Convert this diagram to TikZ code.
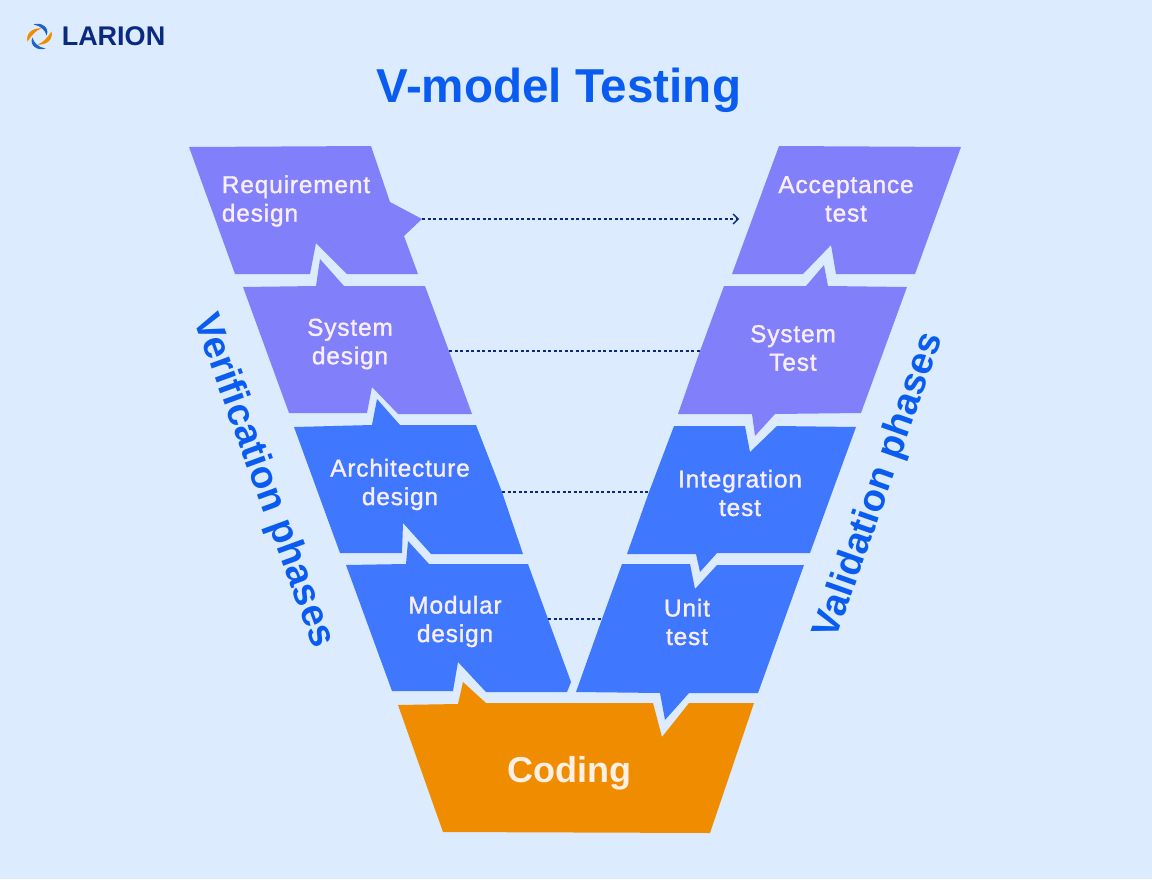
\documentclass[tikz,border=0pt]{standalone}
\usepackage{fontspec}
\setmainfont{Liberation Sans}
\newfontfamily\phasefont[FakeBold=1.4,LetterSpace=3.5]{Liberation Sans}
\usetikzlibrary{arrows.meta}
\definecolor{pagebg}{HTML}{DCECFE}
\definecolor{purplebox}{HTML}{827FFA}
\definecolor{bluebox}{HTML}{3F78FE}
\definecolor{orangebox}{HTML}{F08C00}
\definecolor{titleblue}{HTML}{0A5CF0}
\definecolor{navy}{HTML}{0A2A80}
\definecolor{logoblue}{HTML}{1F62C8}
\definecolor{labeltext}{HTML}{F8EEFF}
\definecolor{codingtext}{HTML}{FFEFE4}
\tikzset{
  phase/.style={text=labeltext,align=center,inner sep=0pt,
    font=\phasefont\fontsize{24.4}{28.5}\selectfont},
  sidelabel/.style={text=titleblue,inner sep=0pt,font=\bfseries\fontsize{38.5}{40}\selectfont},
  trace/.style={navy,line width=1.3pt,dash pattern=on 3pt off 2.5pt}
}
\begin{document}
\begin{tikzpicture}[x=1pt,y=-1pt,>={Straight Barb[length=5pt,width=10pt]}]
  \fill[pagebg] (0,0) rectangle (1152,879);

  % logo
  \foreach \ang in {0,180} {
    \begin{scope}[shift={(39.5,36.5)},rotate=\ang]
      \fill[orangebox] (-12,5) .. controls (-14,-3) and (-7,-9) .. (2,-8) .. controls (-4,-6) and (-7,-2) .. (-12,5) -- cycle;
      \fill[logoblue] (-6,-12) .. controls (1,-15) and (11,-9) .. (7,-1) .. controls (6,-6) and (1,-11) .. (-6,-12) -- cycle;
    \end{scope}
  }
  \node (logotext) at (113.5,36) {\textcolor{navy}{\bfseries\fontsize{27}{27}\selectfont LARION}};

  \node (title) at (559,90) {\textcolor{titleblue}{\bfseries\fontsize{47.6}{48}\selectfont V-model Testing}};

  % left leg
  \fill[purplebox] (189,147) -- (371,146) -- (390,202) -- (422,219) coordinate (reqtip)
    -- (404,236) -- (418,274) -- (347,274) -- (316,243) -- (310,274) -- (235,274) -- cycle;
  \fill[purplebox] (243,287) -- (316,286) -- (320,259) -- (344,286) -- (425,286)
    -- (449,351) coordinate (sysright) -- (472,414) -- (398,414) -- (372,387) -- (367,413) -- (289,413) -- cycle;
  \fill[bluebox] (294,427) -- (372,425) -- (377,399) -- (400,425) -- (476,425)
    -- (502,492) coordinate (archright) -- (523,554) -- (431,554) -- (403,523) -- (402,553) -- (340,553) -- cycle;
  \fill[bluebox] (346,565) -- (406,564) -- (408,541) -- (429,564) -- (528,564)
    -- (548,619) coordinate (modright) -- (571,682) -- (567,692) -- (486,692) -- (458,662) -- (453,691) -- (392,691) -- cycle;

  % bottom
  \fill[orangebox] (398,705) -- (458,704) -- (463,682) -- (486,703) -- (653,703) -- (662,737)
    -- (689,703) -- (754,703) -- (710,833) -- (443,832) -- cycle;

  % right leg
  \fill[purplebox] (779,146) -- (961,147) -- (915,274) -- (836,274) -- (831,245) -- (803,274) -- (732,274) -- cycle;
  \fill[purplebox] (724,286) -- (806,286) -- (824,265) -- (828,286) -- (907,287) -- (861,413)
    -- (775,414) -- (755,436) -- (752,414) -- (678,414) -- (700,351) coordinate (systestleft) -- cycle;
  \fill[bluebox] (674,426) -- (745,426) -- (750,452) -- (777,426) -- (856,427) -- (810,553)
    -- (717,553) -- (700,572) -- (696,554) -- (627,554) -- (649,492) coordinate (intleft) -- cycle;
  \fill[bluebox] (622,564) -- (690,564) -- (695,589) -- (717,565) -- (804,565) -- (758,693)
    -- (689,693) -- (665,720) -- (660,693) -- (576,692) -- (602,619) coordinate (unitleft) -- cycle;

  \coordinate (accleft) at (739,219);

  \node[phase,align=left] (req) at (296,201) {Requirement\\design};
  \node[phase] (sysd) at (350,344) {System\\design};
  \node[phase] (arch) at (400,484.5) {Architecture\\design};
  \node[phase] (mod) at (455,621.5) {Modular\\design};
  \node[phase] (acc) at (846,199) {Acceptance\\test};
  \node[phase] (syst) at (793,348) {System\\Test};
  \node[phase] (integ) at (740,493) {Integration\\test};
  \node[phase] (unit) at (687,622) {Unit\\test};
  \node[text=codingtext,font=\bfseries\fontsize{36}{36}\selectfont] (coding) at (569,773) {Coding};

  \node[sidelabel,rotate=-70] (verif) at (263,481) {Verification phases};
  \node[sidelabel,rotate=70.5,font=\bfseries\fontsize{38}{40}\selectfont] (valid) at (880,486) {Validation phases};

  \draw[trace,->] (reqtip) -- (accleft);
  \draw[trace] (sysright) -- (systestleft);
  \draw[trace] (archright) -- (intleft);
  \draw[trace] (modright) -- (unitleft);
\end{tikzpicture}
\end{document}
